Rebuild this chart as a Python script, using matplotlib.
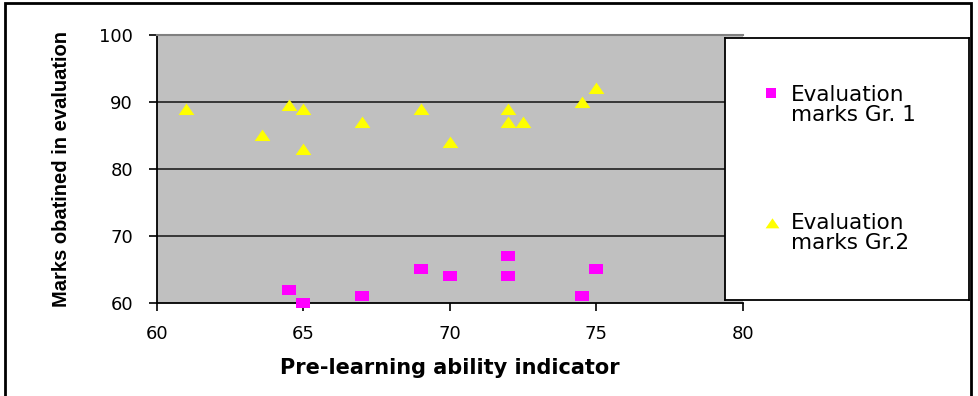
import matplotlib
matplotlib.use('Agg')
import matplotlib.pyplot as plt
from matplotlib.patches import Rectangle

# data
gr1_x = [64.5, 65, 67, 69, 70, 72, 72, 74.5, 75]
gr1_y = [62, 60, 61, 65, 64, 67, 64, 61, 65]
gr2_x = [61, 63.6, 64.5, 65, 65, 67, 69, 70, 72, 72, 72.5, 74.5, 75]
gr2_y = [89, 85, 89.5, 89, 83, 87, 89, 84, 89, 87, 87, 90, 92]
labels = ['Evaluation\nmarks Gr. 1', 'Evaluation\nmarks Gr.2']

plt.rcParams['font.family'] = ['DejaVu Sans']

# flat markers like the spreadsheet ones
rect = [(-1.3, -1), (1.3, -1), (1.3, 1), (-1.3, 1)]
tri = [(-1, -0.7), (1, -0.7), (0, 0.75)]

fig = plt.figure(figsize=(9.79, 3.96), dpi=100)
fig.patches.append(Rectangle((0.005, -0.02), 0.987, 1.012, transform=fig.transFigure,
                             fill=False, edgecolor='black', linewidth=2))

ax = fig.add_axes([0.160, 0.235, 0.599, 0.677])
ax.set_facecolor('#c0c0c0')
ax.set_xlim(60, 80)
ax.set_ylim(60, 100)
ax.set_xticks([60, 65, 70, 75, 80])
ax.set_yticks([60, 70, 80, 90, 100])
for v in [70, 80, 90]:
    ax.axhline(v, color='#202020', linewidth=1.2, zorder=1)

ax.scatter(gr1_x, gr1_y, marker=rect, s=88, color='#ff00ff', linewidths=0,
           zorder=3, clip_on=False)
ax.scatter(gr2_x, gr2_y, marker=tri, s=130, color='#ffff00', linewidths=0,
           zorder=3, clip_on=False)

ax.spines['top'].set_color('#808080')
ax.spines['top'].set_linewidth(1.5)
ax.spines['right'].set_visible(False)
ax.spines['left'].set_linewidth(1.3)
ax.spines['bottom'].set_linewidth(1.3)
ax.tick_params(direction='out', length=6, width=1.2, labelsize=13, colors='black')
ax.tick_params(axis='y', pad=11)
ax.tick_params(axis='x', pad=10)

ax.set_xlabel('Pre-learning ability indicator', fontsize=15, fontweight='bold', labelpad=11)
ax.set_ylabel('Marks obatined in evaluation', fontsize=14.5, fontweight='bold',
              family=['Liberation Sans', 'DejaVu Sans'], labelpad=20)

# legend box
lax = fig.add_axes([0.7405, 0.242, 0.249, 0.662])
lax.set_xlim(0, 1)
lax.set_ylim(0, 1)
lax.set_xticks([])
lax.set_yticks([])
for s in lax.spines.values():
    s.set_linewidth(1.3)
lax.scatter([0.19], [0.79], marker='s', s=50, color='#ff00ff', linewidths=0)
lax.scatter([0.195], [0.295], marker=tri, s=100, color='#ffff00', linewidths=0)
lax.text(0.27, 0.745, labels[0], fontsize=15.5, va='center', ha='left', linespacing=1.0)
lax.text(0.27, 0.255, labels[1], fontsize=15.5, va='center', ha='left', linespacing=1.0)

fig.savefig('out.png', dpi=100)
